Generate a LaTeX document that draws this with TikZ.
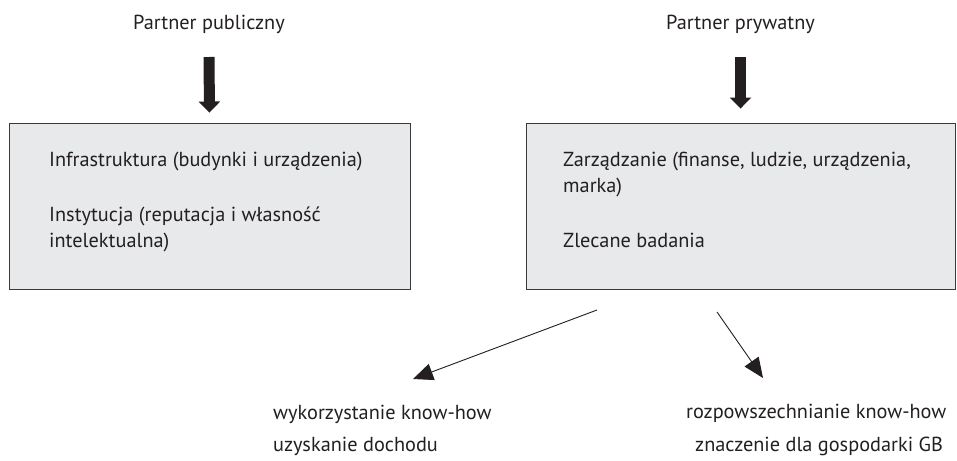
\documentclass[tikz,border=0pt]{standalone}
\usepackage{fontspec}
\setmainfont{PT Sans}
\usetikzlibrary{arrows.meta}
\definecolor{ink}{HTML}{231F20}
\definecolor{boxfill}{HTML}{E8E9EB}
\definecolor{boxline}{HTML}{3A3A3A}
\tikzset{
  lbl/.style={font=\fontsize{20.3}{26}\selectfont, text=ink, inner sep=0pt, anchor=base},
  txt/.style={font=\fontsize{20.3}{26}\selectfont, text=ink, inner sep=0pt, anchor=base west},
  panel/.style={draw=boxline, line width=0.9pt, fill=boxfill, inner sep=0pt},
  bigarrow/.style={draw=ink, line width=11pt, -{Triangle[width=21pt,length=11pt]}},
  thinarrow/.style={draw=ink, line width=0.9pt, -{Triangle[width=17pt,length=20pt]}}
}
\begin{document}
\begin{tikzpicture}[x=1pt,y=-1pt]
\useasboundingbox (0,0) rectangle (957,460);

% partners
\node[lbl] (pub) at (209,30) {Partner publiczny};
\node[lbl] (prv) at (740.5,30) {Partner prywatny};

% panels
\node[panel, minimum width=401pt, minimum height=166pt] (lbox) at (209.5,206) {};
\node[panel, minimum width=429pt, minimum height=166pt] (rbox) at (740.5,206) {};

% panel contents
\node[txt] (l1)  at (49,166) {Infrastruktura (budynki i urządzenia)};
\node[txt] (l2a) at (49,221) {Instytucja (reputacja i własność};
\node[txt] (l2b) at (49,247) {intelektualna)};
\node[txt] (r1a) at (563,166) {Zarządzanie (finanse, ludzie, urządzenia,};
\node[txt] (r1b) at (563,192) {marka)};
\node[txt] (r2)  at (563,247) {Zlecane badania};

% vertical arrows into the panels (canvas y points up)
\draw[bigarrow] ([yshift=-27pt]pub.base) -- ([yshift=10pt]lbox.north);
\draw[bigarrow] ([yshift=-27pt]prv.base) -- ([yshift=14pt]rbox.north);

% outcomes
\node[txt] (o1) at (273,419) {wykorzystanie know-how};
\node[txt] (o2) at (273,451) {uzyskanie dochodu};
\node[txt] (o3) at (686,418) {rozpowszechnianie know-how};
\node[txt] (o4) at (695,451) {znaczenie dla gospodarki GB};

% diverging arrows
\coordinate (s1) at (597,310);
\coordinate (e1) at (413,379);
\coordinate (s2) at (717,312);
\coordinate (e2) at (763,378);
\draw[thinarrow] (s1) -- (e1);
\draw[thinarrow] (s2) -- (e2);
\end{tikzpicture}
\end{document}
